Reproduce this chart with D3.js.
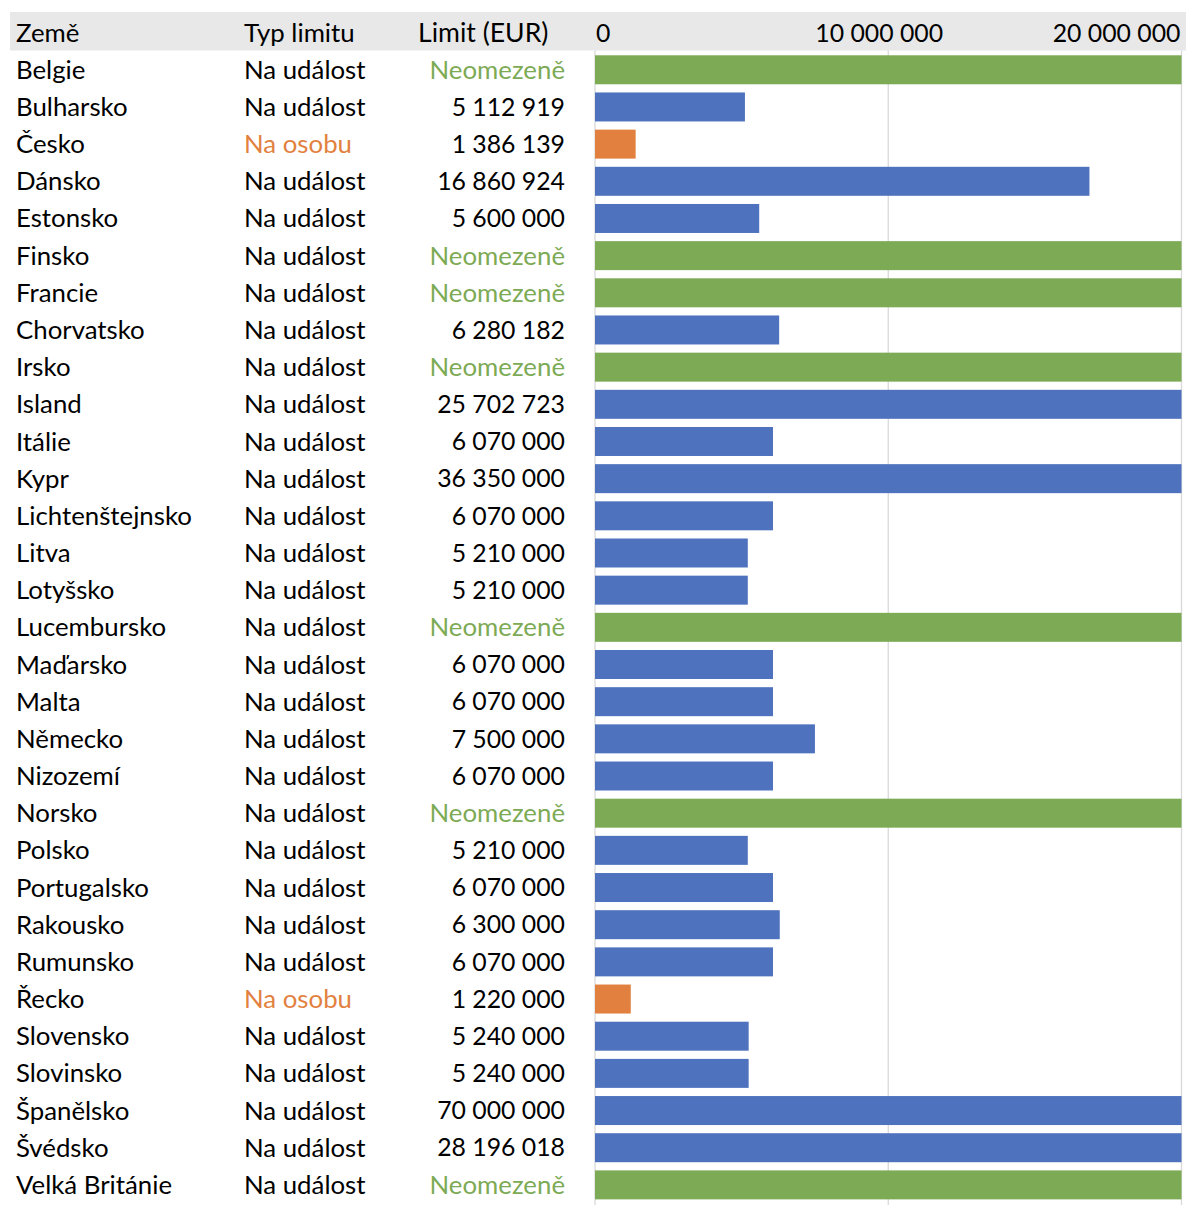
<!DOCTYPE html>
<html>
<head>
<meta charset="utf-8">
<script src="https://cdn.jsdelivr.net/npm/d3@7"></script>
<style>
  body { margin: 0; background: #fff; }
  text { font-family: Lato, "Open Sans", sans-serif; }
</style>
</head>
<body>
<div id="chart"></div>
<script>
const countries = ["Belgie", "Bulharsko", "Česko", "Dánsko", "Estonsko", "Finsko", "Francie",
  "Chorvatsko", "Irsko", "Island", "Itálie", "Kypr", "Lichtenštejnsko", "Litva", "Lotyšsko",
  "Lucembursko", "Maďarsko", "Malta", "Německo", "Nizozemí", "Norsko", "Polsko", "Portugalsko",
  "Rakousko", "Rumunsko", "Řecko", "Slovensko", "Slovinsko", "Španělsko", "Švédsko", "Velká Británie"];

const limitTypes = ["Na událost", "Na událost", "Na osobu", "Na událost", "Na událost", "Na událost",
  "Na událost", "Na událost", "Na událost", "Na událost", "Na událost", "Na událost", "Na událost",
  "Na událost", "Na událost", "Na událost", "Na událost", "Na událost", "Na událost", "Na událost",
  "Na událost", "Na událost", "Na událost", "Na událost", "Na událost", "Na osobu", "Na událost",
  "Na událost", "Na událost", "Na událost", "Na událost"];

// null = Neomezeně
const limits = [null, 5112919, 1386139, 16860924, 5600000, null, null, 6280182, null, 25702723,
  6070000, 36350000, 6070000, 5210000, 5210000, null, 6070000, 6070000, 7500000, 6070000, null,
  5210000, 6070000, 6300000, 6070000, 1220000, 5240000, 5240000, 70000000, 28196018, null];

const axisTicks = [0, 10000000, 20000000];
const headers = ["Země", "Typ limitu", "Limit (EUR)"];
const unlimitedLabel = "Neomezeně";

const width = 1200;
const height = 1217;
const blue = "#4E72BE", orange = "#E2813F", green = "#7DAA55";

const locale = d3.formatLocale({ decimal: ",", thousands: " ", grouping: [3] });
const fmt = locale.format(",d");

const svg = d3.select("#chart").append("svg")
  .attr("width", width)
  .attr("height", height);

const x = d3.scaleLinear()
  .domain([0, 20000000])
  .range([595, 1181.5])
  .clamp(true);

const y = d3.scaleBand()
  .domain(countries)
  .range([51.2, 51.2 + 37.17 * countries.length])
  .paddingInner(0.22)
  .paddingOuter(0.11);

const rows = countries.map((c, i) => ({ country: c, type: limitTypes[i], limit: limits[i] }));

function barColor(d) {
  if (d.limit === null) return green;
  if (d.type === "Na osobu") return orange;
  return blue;
}

// header band
svg.append("rect")
  .attr("x", 10).attr("y", 12)
  .attr("width", 1176).attr("height", 38.5)
  .attr("fill", "#E8E8E8");

// gridlines
svg.selectAll(".grid")
  .data(axisTicks)
  .enter().append("line")
  .attr("class", "grid")
  .attr("x1", d => x(d)).attr("x2", d => x(d))
  .attr("y1", 50.5).attr("y2", 1205)
  .attr("stroke", "#D9D9D9")
  .attr("stroke-width", 1.3);

const fontSize = 25.8;
const numSize = 24.8;

// header texts
svg.append("text").attr("x", 16).attr("y", 33).attr("dy", "0.35em")
  .style("font-size", fontSize + "px").text(headers[0]);
svg.append("text").attr("x", 244).attr("y", 33).attr("dy", "0.35em")
  .style("font-size", fontSize + "px").text(headers[1]);
svg.append("text").attr("x", 418).attr("y", 33).attr("dy", "0.35em")
  .style("font-size", (fontSize + 0.8) + "px").text(headers[2]);

svg.selectAll(".tick-label")
  .data(axisTicks)
  .enter().append("text")
  .attr("class", "tick-label")
  .attr("x", (d, i) => i === 0 ? x(d) + 1 : (i === axisTicks.length - 1 ? x(d) - 1 : x(d) - 9))
  .attr("y", 33).attr("dy", "0.35em")
  .attr("text-anchor", (d, i) => i === 0 ? "start" : (i === axisTicks.length - 1 ? "end" : "middle"))
  .style("font-size", numSize + "px")
  .text(d => fmt(d));

// bars
svg.selectAll(".bar")
  .data(rows)
  .enter().append("rect")
  .attr("class", "bar")
  .attr("x", x(0))
  .attr("y", d => y(d.country))
  .attr("width", d => x(d.limit === null ? Infinity : d.limit) - x(0))
  .attr("height", y.bandwidth())
  .attr("fill", barColor);

// table columns
const mid = d => y(d.country) + y.bandwidth() / 2;

svg.selectAll(".country")
  .data(rows)
  .enter().append("text")
  .attr("class", "country")
  .attr("x", 16).attr("y", mid).attr("dy", "0.35em")
  .style("font-size", fontSize + "px")
  .text(d => d.country);

svg.selectAll(".type")
  .data(rows)
  .enter().append("text")
  .attr("class", "type")
  .attr("x", 244).attr("y", mid).attr("dy", "0.35em")
  .style("font-size", fontSize + "px")
  .attr("fill", d => d.type === "Na osobu" ? orange : "#000")
  .text(d => d.type);

svg.selectAll(".limit")
  .data(rows)
  .enter().append("text")
  .attr("class", "limit")
  .attr("x", 565).attr("y", mid).attr("dy", "0.35em")
  .attr("text-anchor", "end")
  .style("font-size", d => (d.limit === null ? fontSize : numSize) + "px")
  .attr("fill", d => d.limit === null ? green : "#000")
  .text(d => d.limit === null ? unlimitedLabel : fmt(d.limit));
</script>
</body>
</html>
